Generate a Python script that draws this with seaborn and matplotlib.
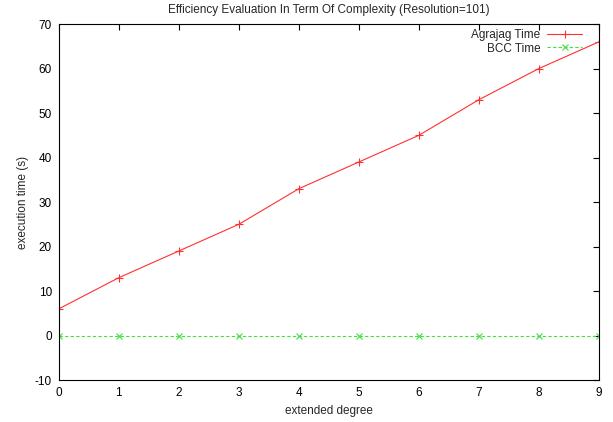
import matplotlib
matplotlib.use("Agg")
import matplotlib.pyplot as plt
import pandas as pd
import seaborn as sns

degrees = [0, 1, 2, 3, 4, 5, 6, 7, 8, 9]
agrajag_time = [6, 13, 19, 25, 33, 39, 45, 53, 60, 66]
bcc_time = [0, 0, 0, 0, 0, 0, 0, 0, 0, 0]

df = pd.DataFrame({'degree': degrees, 'Agrajag Time': agrajag_time, 'BCC Time': bcc_time})

sns.set_style('white')
plt.rcParams['font.family'] = ['Liberation Sans', 'DejaVu Sans']
plt.rcParams['axes.unicode_minus'] = False

red = '#ff3030'
green = '#40e040'

fig, ax = plt.subplots(figsize=(6.13, 4.22), dpi=100)
fig.subplots_adjust(left=0.096, right=0.977, top=0.943, bottom=0.0995)

sns.lineplot(x='degree', y='Agrajag Time', data=df, ax=ax, color=red, lw=0.8,
             marker='+', markersize=6, markeredgewidth=0.8, markeredgecolor=red,
             label='Agrajag Time')
sns.lineplot(x='degree', y='BCC Time', data=df, ax=ax, color=green, lw=0.8,
             linestyle=(0, (3, 2)), marker='x', markersize=4, markeredgewidth=0.8,
             markeredgecolor=green, label='BCC Time')

ax.set_xlim(0, 9)
ax.set_ylim(-10, 70)
ax.set_xticks(range(0, 10))
ax.set_yticks(range(-10, 71, 10))
ax.tick_params(direction='in', length=4, width=0.8, labelsize=8.5, top=True, right=True,
               colors='black', pad=5)
for s in ax.spines.values():
    s.set_color('black')
    s.set_linewidth(0.8)

ax.set_title('Efficiency Evaluation In Term Of Complexity (Resolution=101)', fontsize=8.5, pad=8)
ax.set_xlabel('extended degree', fontsize=8.5)
ax.set_ylabel('execution time (s)', fontsize=8.5)

ax.legend(loc='upper right', bbox_to_anchor=(0.968, 0.985), markerfirst=False, frameon=False,
          fontsize=8.5, borderaxespad=0, borderpad=0, handlelength=2.9, labelspacing=0.1,
          handletextpad=0.6)

fig.savefig('out.png', dpi=100)
